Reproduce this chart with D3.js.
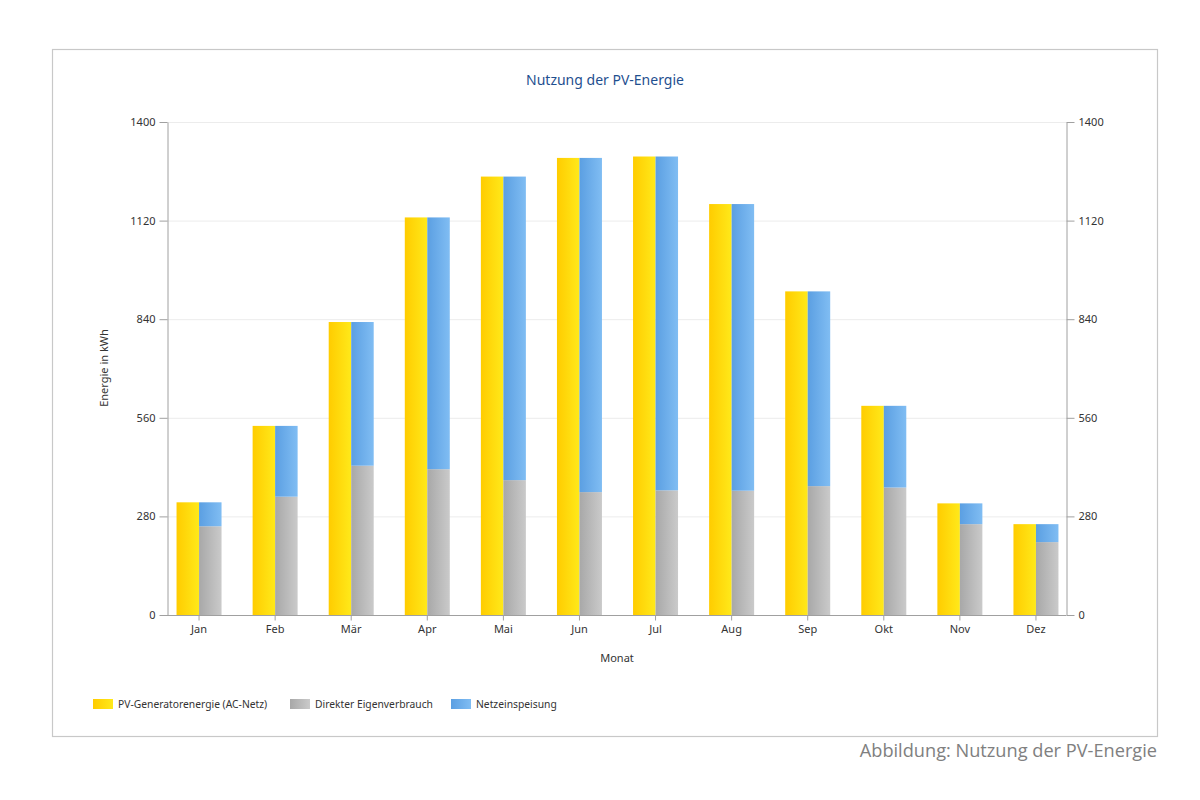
<!DOCTYPE html>
<html>
<head>
<meta charset="utf-8">
<script src="https://cdn.jsdelivr.net/npm/d3@7"></script>
<style>
  body { margin: 0; background: #fff; }
  svg { display: block; font-family: "Noto Sans", "DejaVu Sans", sans-serif; }
</style>
</head>
<body>
<svg id="chart" width="1200" height="800"></svg>
<script>
// Monate
const months = ['Jan', 'Feb', 'Mär', 'Apr', 'Mai', 'Jun', 'Jul', 'Aug', 'Sep', 'Okt', 'Nov', 'Dez'];
// PV-Generatorenergie (AC-Netz), kWh
const pvEnergy = [320, 537, 832, 1129, 1245, 1298, 1302, 1167, 919, 594, 317, 258];
// Direkter Eigenverbrauch, kWh
const selfUse = [252, 336, 424, 414, 383, 349, 354, 353, 366, 362, 258, 207];
// Netzeinspeisung = Rest
const feedIn = pvEnergy.map((v, i) => v - selfUse[i]);
const yTicks = [0, 280, 560, 840, 1120, 1400];
const legendNames = ['PV-Generatorenergie (AC-Netz)', 'Direkter Eigenverbrauch', 'Netzeinspeisung'];

const svg = d3.select('#chart');
const defs = svg.append('defs');

// Verlaeufe links dunkel -> rechts hell
const grad = (id, c1, c2) => {
  const g = defs.append('linearGradient').attr('id', id)
    .attr('x1', '0%').attr('x2', '100%').attr('y1', '0%').attr('y2', '0%');
  g.append('stop').attr('offset', '0%').attr('stop-color', c1);
  g.append('stop').attr('offset', '100%').attr('stop-color', c2);
};
grad('gYellow', '#ffcc00', '#ffe91a');
grad('gGray', '#a8a8a8', '#cacaca');
grad('gBlue', '#5b9fe2', '#80bdf3');

// Rahmen
svg.append('rect')
  .attr('x', 52.5).attr('y', 49.5).attr('width', 1105).attr('height', 687)
  .attr('fill', '#fff').attr('stroke', '#c8c8c8').attr('stroke-width', 1.2);

const plot = {left: 167, right: 1066, top: 122, bottom: 615};

const x = d3.scaleBand()
  .domain(months)
  .range([161, 1074])
  .paddingInner(0)
  .paddingOuter(0);

const y = d3.scaleLinear()
  .domain([0, 1400])
  .range([plot.bottom, plot.top]);

const barW = 22.5;

// Gitterlinien
svg.append('g')
  .selectAll('line')
  .data(yTicks.slice(1))
  .join('line')
  .attr('x1', plot.left).attr('x2', plot.right)
  .attr('y1', d => y(d) + 0.5).attr('y2', d => y(d) + 0.5)
  .attr('stroke', '#ececec');

// Achsen
const styleAxis = g => {
  g.selectAll('.domain').attr('stroke', '#a0a0a0');
  g.selectAll('.tick line').attr('stroke', '#a0a0a0');
  g.selectAll('.tick text').attr('fill', '#333').style('font-size', '11px')
    .style('font-family', '"Noto Sans", sans-serif');
};

svg.append('g')
  .attr('transform', `translate(${plot.left + 0.5},0)`)
  .call(d3.axisLeft(y).tickValues(yTicks).tickFormat(d3.format('d'))
    .tickSize(8).tickSizeOuter(0).tickPadding(4))
  .call(styleAxis);

svg.append('g')
  .attr('transform', `translate(${plot.right + 0.5},0)`)
  .call(d3.axisRight(y).tickValues(yTicks).tickFormat(d3.format('d'))
    .tickSize(8).tickSizeOuter(0).tickPadding(4))
  .call(styleAxis);

const xAxis = svg.append('g')
  .attr('transform', `translate(0,${plot.bottom + 0.5})`)
  .call(d3.axisBottom(x).tickSize(5).tickSizeOuter(0).tickPadding(5))
  .call(styleAxis);
xAxis.select('.domain').attr('d', `M${plot.left},0H${plot.right}`);

// Balken
const cx = m => x(m) + x.bandwidth() / 2;
const bars = svg.append('g');

bars.selectAll('rect.pv')
  .data(months)
  .join('rect')
  .attr('class', 'pv')
  .attr('x', d => cx(d) - barW)
  .attr('width', barW)
  .attr('y', (d, i) => y(pvEnergy[i]))
  .attr('height', (d, i) => y(0) - y(pvEnergy[i]))
  .attr('fill', 'url(#gYellow)');

bars.selectAll('rect.self')
  .data(months)
  .join('rect')
  .attr('class', 'self')
  .attr('x', d => cx(d))
  .attr('width', barW)
  .attr('y', (d, i) => y(selfUse[i]))
  .attr('height', (d, i) => y(0) - y(selfUse[i]))
  .attr('fill', 'url(#gGray)');

bars.selectAll('rect.feed')
  .data(months)
  .join('rect')
  .attr('class', 'feed')
  .attr('x', d => cx(d))
  .attr('width', barW)
  .attr('y', (d, i) => y(selfUse[i] + feedIn[i]))
  .attr('height', (d, i) => y(selfUse[i]) - y(selfUse[i] + feedIn[i]))
  .attr('fill', 'url(#gBlue)');

// Titel
svg.append('text')
  .attr('x', 605).attr('y', 85)
  .attr('text-anchor', 'middle')
  .attr('fill', '#1f4f8f')
  .style('font-size', '14px')
  .text('Nutzung der PV-Energie');

// Achsentitel
svg.append('text')
  .attr('transform', 'translate(108,368) rotate(-90)')
  .attr('text-anchor', 'middle')
  .attr('fill', '#333')
  .style('font-size', '11px')
  .text('Energie in kWh');

svg.append('text')
  .attr('x', 617).attr('y', 662)
  .attr('text-anchor', 'middle')
  .attr('fill', '#333')
  .style('font-size', '11px')
  .text('Monat');

// Legende
const legendX = [93, 290, 451];
const legendFill = ['url(#gYellow)', 'url(#gGray)', 'url(#gBlue)'];
const legend = svg.append('g');
legend.selectAll('rect')
  .data(legendNames)
  .join('rect')
  .attr('x', (d, i) => legendX[i])
  .attr('y', 699)
  .attr('width', 20).attr('height', 10)
  .attr('fill', (d, i) => legendFill[i]);
legend.selectAll('text')
  .data(legendNames)
  .join('text')
  .attr('x', (d, i) => legendX[i] + 25)
  .attr('y', 708)
  .attr('fill', '#333')
  .style('font-size', '10.3px')
  .text(d => d);

// Bildunterschrift
svg.append('text')
  .attr('x', 1157).attr('y', 757)
  .attr('text-anchor', 'end')
  .attr('fill', '#808080')
  .style('font-family', '"Open Sans", sans-serif')
  .style('font-size', '18.2px')
  .text('Abbildung: Nutzung der PV-Energie');
</script>
</body>
</html>
